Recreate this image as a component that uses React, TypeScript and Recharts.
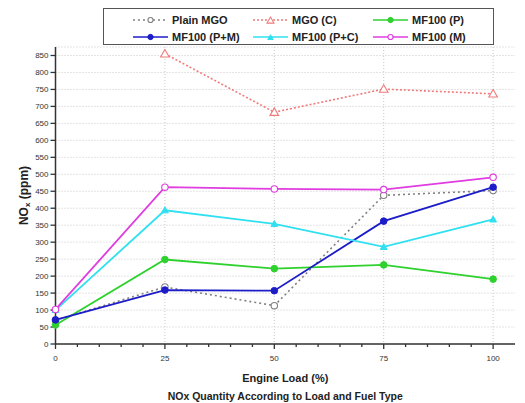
import { LineChart, Line, XAxis, YAxis, CartesianGrid, Legend } from "recharts";

const loads = [0, 25, 50, 75, 100];
const plainMgo = [70, 168, 113, 438, 452];
const mgoC = [null, 855, 683, 751, 737];
const mf100P = [56, 249, 222, 233, 191];
const mf100PM = [71, 159, 157, 362, 462];
const mf100PC = [100, 394, 354, 286, 367];
const mf100M = [102, 462, 457, 455, 491];

const xTicks = [0, 5, 10, 15, 20, 25, 30, 35, 40, 45, 50, 55, 60, 65, 70, 75, 80, 85, 90, 95, 100];
const xMajor = [0, 25, 50, 75, 100];
const yTicks = [0, 50, 100, 150, 200, 250, 300, 350, 400, 450, 500, 550, 600, 650, 700, 750, 800, 850];

const data = loads.map((load, i) => ({
  load,
  plainMgo: plainMgo[i],
  mgoC: mgoC[i],
  mf100P: mf100P[i],
  mf100PM: mf100PM[i],
  mf100PC: mf100PC[i],
  mf100M: mf100M[i],
}));

const FONT = "'Liberation Sans', Arial, sans-serif";
const AXIS = "#333";

type Marker = "openCircle" | "openTriangle" | "dot" | "triangle";

const series: { key: string; name: string; color: string; dash?: string; marker: Marker }[] = [
  { key: "plainMgo", name: "Plain MGO", color: "#808080", dash: "2 3", marker: "openCircle" },
  { key: "mgoC", name: "MGO (C)", color: "#f07a7a", dash: "2 2", marker: "openTriangle" },
  { key: "mf100P", name: "MF100 (P)", color: "#2ed12e", marker: "dot" },
  { key: "mf100PM", name: "MF100 (P+M)", color: "#1c1cc8", marker: "dot" },
  { key: "mf100PC", name: "MF100 (P+C)", color: "#30e0f0", marker: "triangle" },
  { key: "mf100M", name: "MF100 (M)", color: "#e03ce0", marker: "openCircle" },
];

function markerShape(marker: Marker, color: string, cx: number, cy: number, k = 1, key?: string) {
  if (marker === "openCircle") return <circle key={key} cx={cx} cy={cy} r={3.2 * k} fill="#fff" stroke={color} strokeWidth={1.1} />;
  if (marker === "dot") return <circle key={key} cx={cx} cy={cy} r={3.3 * k} fill={color} stroke={color} />;
  const s = (marker === "openTriangle" ? 4.3 : 3.4) * k;
  const pts = `${cx},${cy - s} ${cx - s},${cy + s * 0.75} ${cx + s},${cy + s * 0.75}`;
  if (marker === "openTriangle") return <polygon key={key} points={pts} fill="#fff" stroke={color} strokeWidth={1.1} />;
  return <polygon key={key} points={pts} fill={color} stroke={color} />;
}

const makeDot = (marker: Marker, color: string) => (p: any) => {
  if (p.value == null || p.cx == null || p.cy == null) return <g key={p.key} />;
  return markerShape(marker, color, p.cx, p.cy, 1, p.key);
};

const XTick = (p: any) => {
  const { x, y, payload } = p;
  const major = payload.value % 25 === 0;
  return (
    <g>
      <line x1={x} x2={x} y1={y} y2={y + (major ? 5 : 3)} stroke={AXIS} strokeWidth={1.3} />
      {major && (
        <text x={x} y={y + 17} textAnchor="middle" fontSize={8} fill="#333" fontFamily={FONT}>
          {payload.value}
        </text>
      )}
    </g>
  );
};

const LegendBox = () => (
  <div
    style={{
      width: 391,
      height: 37,
      boxSizing: "border-box",
      border: "1px solid #555",
      background: "#fff",
      position: "relative",
      fontFamily: FONT,
      fontWeight: "bold",
      fontSize: 11,
      color: "#222",
    }}
  >
    {series.map((s, i) => {
      const col = i % 3;
      const row = Math.floor(i / 3);
      return (
        <div
          key={s.key}
          style={{ position: "absolute", left: 29 + col * 120, top: 3 + row * 17, height: 16, display: "flex", alignItems: "center" }}
        >
          <svg width={35} height={12} style={{ marginRight: 4 }}>
            <line x1={0} x2={35} y1={6} y2={6} stroke={s.color} strokeWidth={1.4} strokeDasharray={s.dash} />
            {markerShape(s.marker, s.color, 17.5, s.marker === "openTriangle" || s.marker === "triangle" ? 6.5 : 6, 0.8)}
          </svg>
          <span>{s.name}</span>
        </div>
      );
    })}
  </div>
);

export default function App() {
  return (
    <div style={{ position: "absolute", left: 0, top: 0, width: 525, height: 403, background: "#fff" }}>
      <LineChart width={525} height={403} data={data} margin={{ top: 47, right: 10, bottom: 0, left: 0 }}>
        <CartesianGrid
          stroke="#c8c8c8"
          strokeDasharray="1 2"
          verticalCoordinatesGenerator={({ xAxis, offset }: any) => {
            const s = xAxis?.scale;
            return typeof s === "function"
              ? xMajor.map((v) => s(v))
              : xMajor.map((v) => offset.left + (v / 105) * offset.width);
          }}
        />
        <XAxis
          dataKey="load"
          type="number"
          domain={[0, 105]}
          ticks={xTicks}
          interval={0}
          height={59}
          tickSize={0}
          tickMargin={0}
          tickLine={false}
          tick={<XTick />}
          axisLine={{ stroke: AXIS, strokeWidth: 1.5 }}
          label={{
            position: "insideBottom",
            content: (lp: any) => {
              const vb = lp.viewBox || { x: 55, y: 344, width: 460 };
              const cx = vb.x + vb.width / 2;
              return (
                <g fontFamily={FONT} fontWeight="bold" fill="#222" textAnchor="middle">
                  <text x={cx} y={vb.y + 38} fontSize={11}>Engine Load (%)</text>
                  <text x={cx} y={vb.y + 56} fontSize={10.5}>NOx Quantity According to Load and Fuel Type</text>
                </g>
              );
            },
          }}
        />
        <XAxis xAxisId="top" orientation="top" dataKey="load" type="number" domain={[0, 105]} height={0} tick={false} tickLine={false} axisLine={{ stroke: AXIS, strokeWidth: 1.5 }} />
        <YAxis
          domain={[0, 875]}
          ticks={yTicks}
          interval={0}
          width={55.5}
          tickSize={5}
          tickMargin={2}
          tickLine={{ stroke: AXIS, strokeWidth: 1.3 }}
          axisLine={{ stroke: AXIS, strokeWidth: 1.5 }}
          tick={{ fontSize: 8, fill: "#333", fontFamily: FONT }}
          label={{
            position: "insideLeft",
            content: (lp: any) => {
              const vb = lp.viewBox || { x: 0, y: 47, height: 297 };
              const cy = vb.y + vb.height / 2;
              return (
                <text
                  x={25}
                  y={cy}
                  transform={`rotate(-90 25 ${cy})`}
                  textAnchor="middle"
                  dominantBaseline="middle"
                  fontFamily={FONT}
                  fontWeight="bold"
                  fontSize={12}
                  fill="#222"
                >
                  NO<tspan fontSize={8} dy={3}>x</tspan>
                  <tspan dy={-3}> (ppm)</tspan>
                </text>
              );
            },
          }}
        />
        <YAxis yAxisId="right" orientation="right" domain={[0, 875]} width={0} tick={false} tickLine={false} axisLine={{ stroke: AXIS, strokeWidth: 1.5 }} />
        <Legend
          layout="vertical"
          align="center"
          verticalAlign="middle"
          content={<LegendBox />}
          wrapperStyle={{ position: "absolute", top: 8, left: 103, width: 391, height: 37 }}
        />
        {series.map((s) => (
          <Line
            key={s.key}
            dataKey={s.key}
            name={s.name}
            type="linear"
            stroke={s.color}
            strokeWidth={s.dash ? 1.6 : 1.8}
            strokeDasharray={s.dash}
            dot={makeDot(s.marker, s.color)}
            activeDot={false}
            connectNulls={false}
            isAnimationActive={false}
          />
        ))}
      </LineChart>
    </div>
  );
}
